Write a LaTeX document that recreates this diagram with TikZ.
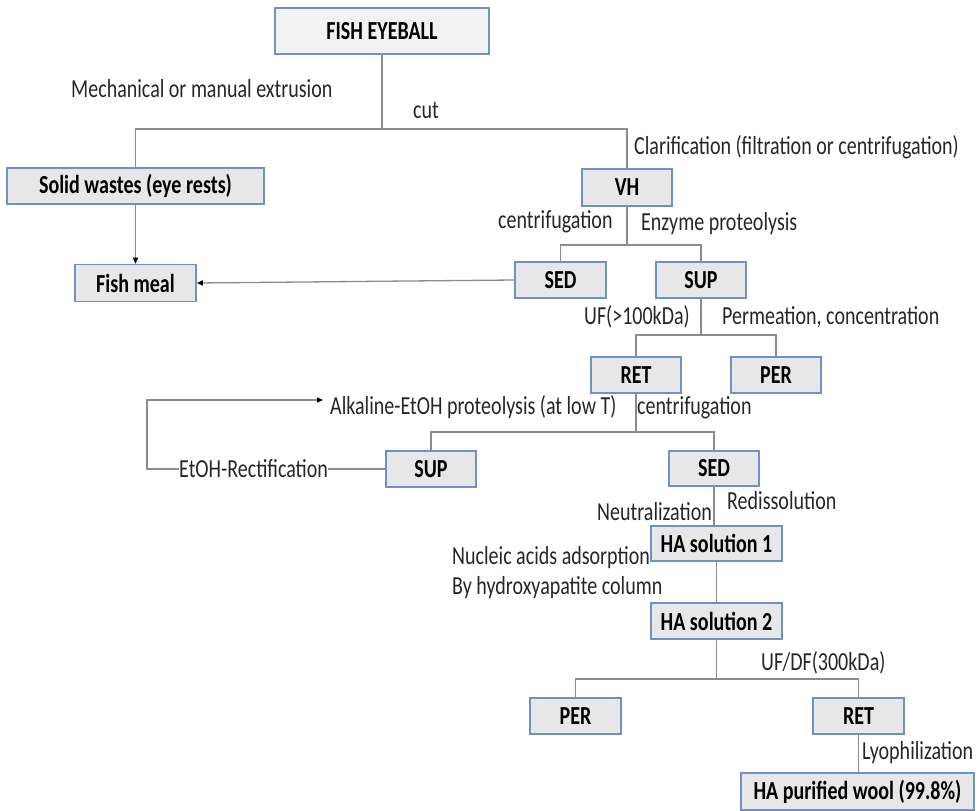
\documentclass[tikz,border=0pt]{standalone}
\usepackage{fontspec}
\setmainfont{Carlito}[FakeStretch=0.77]
\usetikzlibrary{arrows.meta}
\definecolor{boxfill}{HTML}{E7E7E7}
\definecolor{boxtop}{HTML}{F2F2F2}
\definecolor{boxline}{HTML}{7090C8}
\definecolor{conncol}{HTML}{8C8C8C}
\definecolor{labcol}{HTML}{262626}
\begin{document}
\begin{tikzpicture}[x=1pt,y=-1pt,
  box/.style={draw=boxline,line width=1.6pt,fill=boxfill,inner sep=0pt,minimum height=36pt,
    font=\fontsize{26}{30}\selectfont\bfseries,text=black},
  lab/.style={anchor=west,inner sep=0pt,font=\fontsize{26}{30}\selectfont,text=labcol},
  conn/.style={draw=conncol,line width=1.3pt},
  arr/.style={conn,-{Triangle[length=6pt,width=5pt,color=black]}}]
\useasboundingbox (0,0) rectangle (980,811);

% boxes
\node[box,minimum width=214pt,minimum height=46pt,fill=boxtop] (fish) at (382,31) {FISH EYEBALL};
\node[box,minimum width=257pt] (solid) at (135.5,186) {Solid wastes (eye rests)};
\node[box,minimum width=121pt,minimum height=37pt] (fishmeal) at (135.5,283) {Fish meal};
\node[box,minimum width=90pt,minimum height=37pt] (vh) at (627,187.5) {VH};
\node[box,minimum width=91pt] (sed1) at (560.5,280) {SED};
\node[box,minimum width=90pt] (sup1) at (701,280) {SUP};
\node[box,minimum width=90pt] (ret1) at (636,375) {RET};
\node[box,minimum width=90pt] (per1) at (776,375) {PER};
\node[box,minimum width=90pt] (sup2) at (431,469) {SUP};
\node[box,minimum width=90pt,minimum height=35pt] (sed2) at (714,468.5) {SED};
\node[box,minimum width=131pt,minimum height=35pt] (ha1) at (716.5,543.5) {HA solution 1};
\node[box,minimum width=131pt] (ha2) at (716.5,621) {HA solution 2};
\node[box,minimum width=91pt] (per2) at (575.5,716) {PER};
\node[box,minimum width=91pt] (ret2) at (858.5,716) {RET};
\node[box,minimum width=233pt,minimum height=37pt] (hapw) at (857.5,791.5) {HA purified wool (99.8\%)};

% labels
\node[lab] (l1) at (71,89) {Mechanical or manual extrusion};
\node[lab] (l2) at (413,110) {cut};
\node[lab] (l3) at (634,147) {Clarification (filtration or centrifugation)};
\node[lab] (l4) at (498,222) {centrifugation};
\node[lab] (l5) at (641,224) {Enzyme proteolysis};
\node[lab] (l6) at (584,317) {UF(>100kDa)};
\node[lab] (l7) at (722,317) {Permeation, concentration};
\node[lab] (alk) at (330,407) {Alkaline-EtOH proteolysis (at low T)};
\node[lab] (l9) at (637,408) {centrifugation};
\node[lab] (etoh) at (179,469) {EtOH-Rectification};
\node[lab] (l11) at (597,512) {Neutralization};
\node[lab] (l12) at (727,501) {Redissolution};
\node[lab] (l13) at (452,558) {Nucleic acids adsorption};
\node[lab] (l14) at (452,588) {By hydroxyapatite column};
\node[lab] (l15) at (761,663) {UF/DF(300kDa)};
\node[lab] (l16) at (862,753) {Lyophilization};

% junctions
\coordinate (j1) at (382,129);
\coordinate (j2) at (627,245);
\coordinate (j3) at (701,335);
\coordinate (j4) at (636,432);
\coordinate (j5) at (716.5,679);
\coordinate (loopc) at (147,469);
\coordinate (alktip) at (323,400);

% connectors
\draw[conn] (fish.south) -- (j1);
\draw[conn] (solid.north) |- (j1) -| (vh.north);
\draw[arr] (solid.south) -- (fishmeal.north);
\draw[conn] (vh.south) -- (j2);
\draw[conn] (sed1.north) |- (j2) -| (sup1.north);
\draw[arr] (sed1.west) -- (fishmeal.east);
\draw[conn] (sup1.south) -- (j3);
\draw[conn] (ret1.north) |- (j3) -| (per1.north);
\draw[conn] (ret1.south) -- (j4);
\draw[conn] (sup2.north) |- (j4) -| (sed2.north);
\draw[conn] (sup2.west) -- (etoh.east);
\draw[arr] (etoh.west) -- (loopc) |- (alktip);
\draw[conn] (sed2.south) -- (sed2.south |- ha1.north);
\draw[conn] (ha1.south) -- (ha2.north);
\draw[conn] (ha2.south) -- (j5);
\draw[conn] (per2.north) |- (j5) -| (ret2.north);
\draw[conn] (ret2.south) -- (ret2.south |- hapw.north);
\end{tikzpicture}
\end{document}
